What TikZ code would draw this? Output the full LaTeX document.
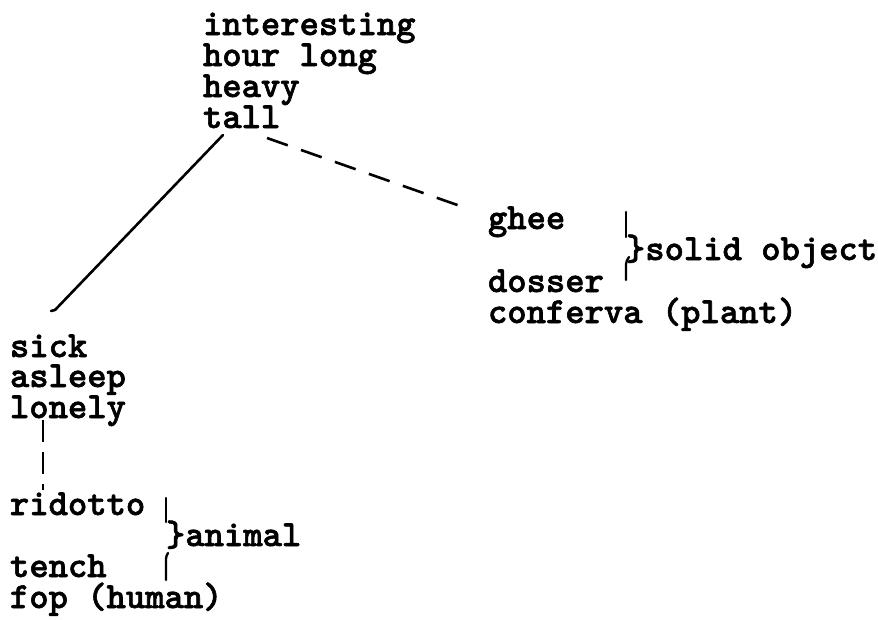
\documentclass[tikz,border=0pt]{standalone}
\usetikzlibrary{calc}
\font\typebold="[lmmonolt10-bold]:embolden=1.6" at 36.8pt
\begin{document}
\begin{tikzpicture}[x=1pt,y=-1pt,
  word/.style={anchor=base west,inner sep=0pt,outer sep=0pt,
    text height=20pt,text depth=4pt,font=\typebold},
  link/.style={line width=2.6pt,line cap=round},
  dlink/.style={line width=2.6pt,dash pattern=on 22pt off 14pt},
  bar/.style={line width=2.3pt,line cap=round}]
\useasboundingbox (0,0) rectangle (878,619);
% top block
\node[word] (interesting) at (203,35) {interesting};
\node[word] (hourlong) at (203,66) {hour long};
\node[word] (heavy) at (203,97) {heavy};
\node[word] (tall) at (203,128) {tall};
% right block
\node[word] (ghee) at (488,229) {ghee};
\node[word] (solid) at (626,260) {\}solid object};
\node[word] (dosser) at (488,292) {dosser};
\node[word] (conferva) at (488,323) {conferva (plant)};
% left block
\node[word] (sick) at (10,357) {sick};
\node[word] (asleep) at (10,387) {asleep};
\node[word] (lonely) at (10,418) {lonely};
\node[word] (ridotto) at (10,515) {ridotto};
\node[word] (animal) at (166,546) {\}animal};
\node[word] (tench) at (10,577) {tench};
\node[word] (fop) at (10,608) {fop (human)};
% connectors
\draw[link] ([shift={(20,7)}]tall.base west) -- ([shift={(45,-47)}]sick.base west);
\draw[link] ([shift={(45,-47)}]sick.base west) -- ([shift={(41,-46)}]sick.base west);
\draw[dlink] ([shift={(64,10)}]tall.base west) -- ([shift={(-25,-22)}]ghee.base west);
\draw[line width=2.3pt,dash pattern=on 22pt off 10pt] ([shift={(33,2)}]lonely.base west) -- ([shift={(33,-25)}]ridotto.base west);
% brace bars
\draw[bar] ([shift={(0,-48)}]solid.base west) -- ([shift={(0,-23)}]solid.base west);
\draw[bar] ([shift={(3,-3)}]solid.base west) to[out=240,in=90] ([shift={(0,4)}]solid.base west) -- ([shift={(0,20)}]solid.base west);
\draw[bar] ([shift={(0,-48)}]animal.base west) -- ([shift={(0,-24)}]animal.base west);
\draw[bar] ([shift={(2,7)}]animal.base west) to[out=240,in=90] ([shift={(0,13)}]animal.base west) -- ([shift={(0,34)}]animal.base west);
\end{tikzpicture}
\end{document}
